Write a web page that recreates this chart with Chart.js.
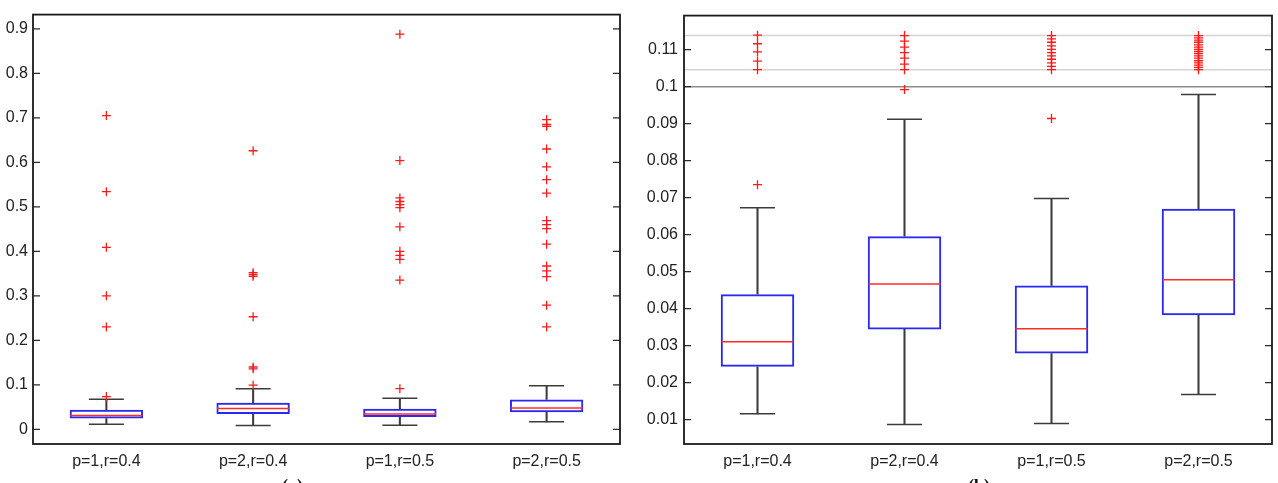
<!DOCTYPE html>
<html>
<head>
<meta charset="utf-8">
<title>Boxplots</title>
<script src="https://cdn.jsdelivr.net/npm/chart.js@4/dist/chart.umd.min.js"></script>
<style>
  html, body { margin: 0; padding: 0; background: #fff; }
  #wrap { position: relative; width: 1278px; height: 483px; overflow: hidden; }
  .panel { position: absolute; top: 0; }
  .cap { position: absolute; top: 476px; font: bold 18px "Liberation Serif", serif; color: #111; }
</style>
</head>
<body>
<div id="wrap">
  <div class="panel" style="left:0"><canvas id="chartA" width="640" height="483"></canvas></div>
  <div class="panel" style="left:640px"><canvas id="chartB" width="638" height="483"></canvas></div>
  <div class="cap" style="left:282px">(a)</div>
  <div class="cap" style="left:968px">(b)</div>
</div>
<script>
// Box statistics (same data in both panels)
const categories = ["p=1,r=0.4", "p=2,r=0.4", "p=1,r=0.5", "p=2,r=0.5"];
const q1 = [0.0243, 0.0344, 0.0279, 0.0382];
const median = [0.0311, 0.0467, 0.0346, 0.0478];
const q3 = [0.0439, 0.0596, 0.0463, 0.0670];
const whiskerLow = [0.0116, 0.0087, 0.0090, 0.0168];
const whiskerHigh = [0.0673, 0.0912, 0.0698, 0.0979];

// Outliers, one list per category
const outliers1 = [0.0735, 0.230, 0.300, 0.409, 0.534, 0.705];
const outliers2 = [0.0992, 0.136, 0.140, 0.253, 0.344, 0.348, 0.352, 0.626];
const outliers3 = [0.0914, 0.3355, 0.382, 0.391, 0.400, 0.455, 0.498, 0.505, 0.512, 0.520, 0.604, 0.888];
const outliers4 = [0.230, 0.279, 0.343, 0.356, 0.367, 0.416, 0.451, 0.460, 0.469, 0.531, 0.561, 0.590, 0.630, 0.681, 0.685, 0.696];

// Panel (b): outliers above the data limit are drawn compressed in the top band
const dataLimit = 0.1;
const compressed1 = [0.1046, 0.1069, 0.1094, 0.1116, 0.1139];
const compressed2 = [0.1046, 0.1061, 0.1077, 0.1092, 0.1107, 0.1123, 0.1138];
const compressed3 = [0.1046, 0.1055, 0.1064, 0.1074, 0.1083, 0.1092, 0.1101, 0.1110, 0.1120, 0.1129, 0.1138];
const compressed4 = [0.1046, 0.1052, 0.1058, 0.1064, 0.1070, 0.1077, 0.1083, 0.1089, 0.1095, 0.1101, 0.1107, 0.1113, 0.1120, 0.1126, 0.1132, 0.1138];
const bandLines = [0.1046, 0.1138];

const outlierLists = [outliers1, outliers2, outliers3, outliers4];
const compressedLists = [compressed1, compressed2, compressed3, compressed4];

const FONT = { family: "'Liberation Sans', Arial, sans-serif", size: 16 };

function toPoints(lists) {
  const pts = [];
  lists.forEach((list, i) => list.forEach((v) => pts.push({ x: categories[i], y: v })));
  return pts;
}

function boxDatasets(points) {
  const whiskerColor = "#3c3c3c";
  return [
    {
      type: "line", data: points, showLine: false,
      pointStyle: "cross", pointRadius: 4.5, pointBorderWidth: 1.3,
      borderColor: "#ff1a1a", pointBorderColor: "#ff1a1a", order: 0,
    },
    {
      type: "line", data: median, showLine: false,
      pointStyle: "line", pointRadius: 36, pointBorderWidth: 1.5,
      borderColor: "#ff2b2b", pointBorderColor: "#ff2b2b", order: 1,
    },
    {
      type: "bar", data: categories.map((c, i) => [q1[i], q3[i]]),
      backgroundColor: "rgba(0,0,0,0)", borderColor: "#2a2aee", borderWidth: 2,
      borderSkipped: false, grouped: false, barPercentage: 0.5, categoryPercentage: 1, order: 2,
    },
    {
      type: "bar", data: categories.map((c, i) => [q3[i], whiskerHigh[i]]),
      backgroundColor: whiskerColor, barThickness: 1.4, grouped: false, order: 3,
    },
    {
      type: "bar", data: categories.map((c, i) => [whiskerLow[i], q1[i]]),
      backgroundColor: whiskerColor, barThickness: 1.4, grouped: false, order: 3,
    },
    {
      type: "line", data: whiskerHigh, showLine: false,
      pointStyle: "line", pointRadius: 17.5, pointBorderWidth: 1.5,
      borderColor: whiskerColor, pointBorderColor: whiskerColor, order: 4,
    },
    {
      type: "line", data: whiskerLow, showLine: false,
      pointStyle: "line", pointRadius: 17.5, pointBorderWidth: 1.5,
      borderColor: whiskerColor, pointBorderColor: whiskerColor, order: 4,
    },
  ];
}

// Frame, inward tick marks and reference lines, MATLAB style
const matlabAxes = {
  id: "matlabAxes",
  beforeDatasetsDraw(chart, args, opts) {
    const { ctx, chartArea: a, scales: { y } } = chart;
    (opts.refLines || []).forEach((r) => {
      const py = y.getPixelForValue(r.value);
      ctx.save();
      ctx.strokeStyle = r.color;
      ctx.lineWidth = 1.5;
      ctx.beginPath();
      ctx.moveTo(a.left, py);
      ctx.lineTo(a.right, py);
      ctx.stroke();
      ctx.restore();
    });
  },
  afterDraw(chart) {
    const { ctx, chartArea: a, scales: { y } } = chart;
    ctx.save();
    ctx.strokeStyle = "#2a2a2a";
    ctx.lineWidth = 1.3;
    ctx.beginPath();
    y.ticks.forEach((t) => {
      const py = y.getPixelForValue(t.value);
      ctx.moveTo(a.left, py);
      ctx.lineTo(a.left + 7, py);
      ctx.moveTo(a.right, py);
      ctx.lineTo(a.right - 7, py);
    });
    ctx.stroke();
    ctx.strokeStyle = "#1a1a1a";
    ctx.lineWidth = 1.8;
    ctx.strokeRect(a.left, a.top, a.right - a.left, a.bottom - a.top);
    ctx.restore();
  },
};

function makeChart(id, cfg) {
  return new Chart(document.getElementById(id), {
    type: "bar",
    data: { labels: categories, datasets: boxDatasets(cfg.points) },
    options: {
      responsive: false,
      animation: false,
      layout: { padding: cfg.padding, autoPadding: false },
      plugins: {
        legend: { display: false },
        tooltip: { enabled: false },
        matlabAxes: { refLines: cfg.refLines },
      },
      scales: {
        x: {
          offset: true,
          grid: { display: false, drawTicks: false },
          border: { display: false },
          ticks: { color: "#222", font: FONT, padding: 8, maxRotation: 0, autoSkip: false },
          afterFit: (s) => { s.height = 39; },
        },
        y: {
          min: cfg.yMin,
          max: cfg.yMax,
          grid: { display: false, drawTicks: false },
          border: { display: false },
          ticks: {
            stepSize: cfg.step,
            includeBounds: false,
            color: "#222",
            font: FONT,
            padding: cfg.tickPad,
            callback: (v) => String(+v.toFixed(3)),
          },
          afterFit: (s) => { s.width = cfg.yWidth; },
        },
      },
    },
    plugins: [matlabAxes],
  });
}

// Panel (a): full range
makeChart("chartA", {
  points: toPoints(outlierLists),
  padding: { top: 4, right: 20, left: 0, bottom: 0 },
  yMin: -0.033, yMax: 0.932, step: 0.1, yWidth: 33, tickPad: 5,
  refLines: [],
});

// Panel (b): limited range with compressed extremes
const lowOutliers = outlierLists.map((list) => list.filter((v) => v < dataLimit));
makeChart("chartB", {
  points: toPoints(lowOutliers).concat(toPoints(compressedLists)),
  padding: { top: 3, right: 6, left: 0, bottom: 0 },
  yMin: 0.00344, yMax: 0.1192, step: 0.01, yWidth: 44, tickPad: 6,
  refLines: [
    { value: bandLines[0], color: "#d4d4d4" },
    { value: bandLines[1], color: "#d4d4d4" },
    { value: dataLimit, color: "#8c8c8c" },
  ],
});
</script>
</body>
</html>
